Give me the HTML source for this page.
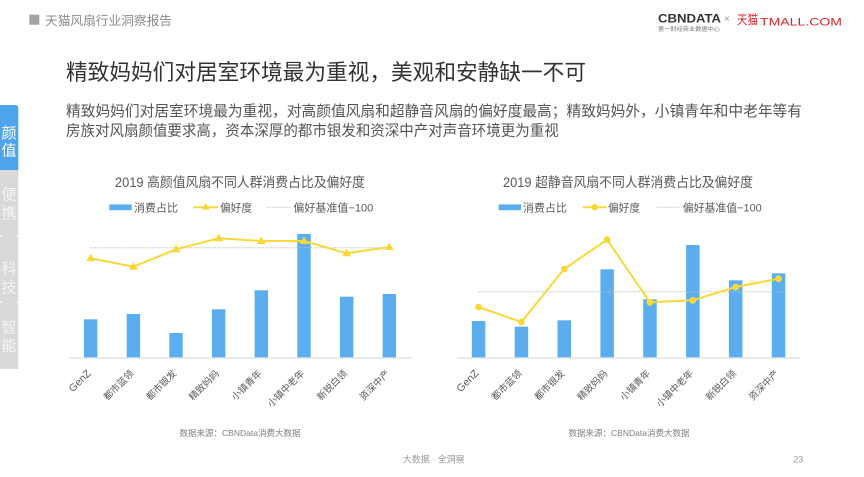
<!DOCTYPE html>
<html><head><meta charset="utf-8"><style>
html,body{margin:0;padding:0;background:#fff;}
svg{display:block;}
text{font-family:"Liberation Sans","Noto Sans CJK SC",sans-serif;}
</style></head><body>
<svg width="864" height="477" viewBox="0 0 864 477" xmlns="http://www.w3.org/2000/svg">
<rect width="864" height="477" fill="#fff"/>
<!-- header -->
<rect x="29.3" y="14.7" width="10" height="10" fill="#a3a3a3"/>
<text x="45" y="24.8" font-size="12.5" fill="#8c8c8c" textLength="127" lengthAdjust="spacingAndGlyphs">天猫风扇行业洞察报告</text>
<!-- logo -->
<text x="658" y="22.3" font-size="11.5" font-weight="bold" fill="#333" textLength="63" lengthAdjust="spacingAndGlyphs">CBNDATA</text>
<text x="658" y="31" font-size="5.5" fill="#777" textLength="62" lengthAdjust="spacingAndGlyphs">第一财经商业数据中心</text>
<text x="724" y="22" font-size="10" fill="#999">×</text>
<text x="737" y="24" font-size="12.5" fill="#d7262c" textLength="21" lengthAdjust="spacingAndGlyphs">天猫</text>
<text x="760" y="25.7" font-size="11" fill="#d7262c" textLength="82" lengthAdjust="spacingAndGlyphs">TMALL.COM</text>
<!-- title -->
<text x="66" y="80" font-size="22" fill="#333" textLength="520" lengthAdjust="spacingAndGlyphs">精致妈妈们对居室环境最为重视，美观和安静缺一不可</text>
<text x="66" y="115.8" font-size="15" fill="#555" textLength="736" lengthAdjust="spacingAndGlyphs">精致妈妈们对居室环境最为重视，对高颜值风扇和超静音风扇的偏好度最高；精致妈妈外，小镇青年和中老年等有</text>
<text x="66" y="135.5" font-size="15" fill="#555" textLength="492.7" lengthAdjust="spacingAndGlyphs">房族对风扇颜值要求高，资本深厚的都市银发和资深中产对声音环境更为重视</text>
<!-- sidebar -->
<path d="M0,105 H15 Q18.3,105 18.3,108 V170 H0 Z" fill="#4ea5ec"/>
<rect x="0" y="170" width="18.3" height="199" fill="#d9d9d9"/>
<path d="M0,366 H18.3 V366 Q18.3,369 15,369 H0 Z" fill="#d9d9d9"/>
<rect x="0" y="235.5" width="1.5" height="1.5" fill="#fff"/><rect x="16.8" y="235.5" width="1.5" height="1.5" fill="#fff"/>
<rect x="0" y="301.5" width="1.5" height="1.5" fill="#fff"/><rect x="16.8" y="301.5" width="1.5" height="1.5" fill="#fff"/>
<g font-size="15" fill="#fff" text-anchor="middle">
<text x="9" y="138">颜</text><text x="9" y="155.6">值</text>
</g>
<g font-size="15" fill="#f4f4f4" text-anchor="middle">
<text x="9" y="199.6">便</text><text x="9" y="218.6">携</text>
<text x="9" y="273.6">科</text><text x="9" y="292.3">技</text>
<text x="9" y="332.3">智</text><text x="9" y="350.6">能</text>
</g>

<!-- LEFT CHART -->
<text x="115" y="187" font-size="13.5" fill="#595959" textLength="250" lengthAdjust="spacingAndGlyphs">2019 高颜值风扇不同人群消费占比及偏好度</text>
<rect x="109.3" y="204.4" width="22.4" height="5.8" fill="#5aaeef"/>
<text x="134" y="211.5" font-size="11" fill="#595959" textLength="44" lengthAdjust="spacingAndGlyphs">消费占比</text>
<line x1="193.3" y1="207.3" x2="218.3" y2="207.3" stroke="#f9d93a" stroke-width="2"/>
<polygon points="205.8,203 201.8,209.6 209.8,209.6" fill="#f9d93a"/>
<text x="220" y="211.5" font-size="11" fill="#595959" textLength="32" lengthAdjust="spacingAndGlyphs">偏好度</text>
<line x1="267.3" y1="207.3" x2="291.7" y2="207.3" stroke="#bbb" stroke-width="1" stroke-dasharray="1.2,1.2"/>
<text x="293.3" y="211.5" font-size="11" fill="#595959" textLength="80" lengthAdjust="spacingAndGlyphs">偏好基准值−100</text>

<line x1="69" y1="358" x2="412" y2="358" stroke="#e4e4e4" stroke-width="1.5"/>
<g fill="#5aaeef">
<rect x="84" y="319.3" width="13.4" height="38"/>
<rect x="126.7" y="314" width="13.4" height="43.3"/>
<rect x="169.3" y="333" width="13.4" height="24.3"/>
<rect x="212" y="309.3" width="13.4" height="48"/>
<rect x="254.6" y="290.3" width="13.4" height="67"/>
<rect x="297.3" y="234" width="13.4" height="123.3"/>
<rect x="340" y="296.7" width="13.4" height="60.6"/>
<rect x="382.6" y="294" width="13.4" height="63.3"/>
</g>
<line x1="90" y1="247.7" x2="392" y2="247.7" stroke="#bdbdbd" stroke-width="1" stroke-dasharray="1.2,1.2"/>
<polyline points="90.7,258.3 133.4,266.7 176,249.3 218.7,238.3 261.3,241 304,241 346.7,253.3 389.3,247" fill="none" stroke="#f9d93a" stroke-width="2"/>
<g fill="#f9d93a">
<polygon points="90.7,253.8 86.2,261.3 95.2,261.3"/>
<polygon points="133.4,262.2 128.9,269.7 137.9,269.7"/>
<polygon points="176,244.8 171.5,252.3 180.5,252.3"/>
<polygon points="218.7,233.8 214.2,241.3 223.2,241.3"/>
<polygon points="261.3,236.5 256.8,244 265.8,244"/>
<polygon points="304,236.5 299.5,244 308.5,244"/>
<polygon points="346.7,248.8 342.2,256.3 351.2,256.3"/>
<polygon points="389.3,242.5 384.8,250 393.8,250"/>
</g>
<g font-size="9.5" fill="#595959" text-anchor="end">
<text transform="translate(91.5,374) rotate(-45)" font-size="10.5">GenZ</text>
<text transform="translate(134.4,374) rotate(-45)">都市蓝领</text>
<text transform="translate(177,374) rotate(-45)">都市银发</text>
<text transform="translate(219.7,374) rotate(-45)">精致妈妈</text>
<text transform="translate(262.3,374) rotate(-45)">小镇青年</text>
<text transform="translate(305,374) rotate(-45)">小镇中老年</text>
<text transform="translate(347.7,374) rotate(-45)">新锐白领</text>
<text transform="translate(390.3,374) rotate(-45)">资深中产</text>
</g>
<text x="240" y="436" font-size="8.5" fill="#808080" text-anchor="middle">数据来源：CBNData消费大数据</text>

<!-- RIGHT CHART -->
<text x="503" y="187" font-size="13.5" fill="#595959" textLength="250" lengthAdjust="spacingAndGlyphs">2019 超静音风扇不同人群消费占比及偏好度</text>
<rect x="498.7" y="204.4" width="22.4" height="5.8" fill="#5aaeef"/>
<text x="523" y="211.5" font-size="11" fill="#595959" textLength="44" lengthAdjust="spacingAndGlyphs">消费占比</text>
<line x1="582.7" y1="207.3" x2="606.7" y2="207.3" stroke="#f9d93a" stroke-width="2"/>
<circle cx="594.7" cy="207.3" r="3.3" fill="#f9d93a"/>
<text x="608" y="211.5" font-size="11" fill="#595959" textLength="32" lengthAdjust="spacingAndGlyphs">偏好度</text>
<line x1="656.7" y1="207.3" x2="680.7" y2="207.3" stroke="#bbb" stroke-width="1" stroke-dasharray="1.2,1.2"/>
<text x="682.7" y="211.5" font-size="11" fill="#595959" textLength="79" lengthAdjust="spacingAndGlyphs">偏好基准值−100</text>

<line x1="457" y1="358" x2="800" y2="358" stroke="#e4e4e4" stroke-width="1.5"/>
<g fill="#5aaeef">
<rect x="471.8" y="321" width="13.5" height="36.3"/>
<rect x="514.7" y="326.7" width="13.5" height="30.6"/>
<rect x="557.5" y="320.3" width="13.5" height="37"/>
<rect x="600.4" y="269.3" width="13.5" height="88"/>
<rect x="643.2" y="299.3" width="13.5" height="58"/>
<rect x="686.1" y="245" width="13.5" height="112.3"/>
<rect x="728.9" y="280.3" width="13.5" height="77"/>
<rect x="771.8" y="273.3" width="13.5" height="84"/>
</g>
<line x1="478" y1="291.7" x2="783" y2="291.7" stroke="#bdbdbd" stroke-width="1" stroke-dasharray="1.2,1.2"/>
<polyline points="478.5,307 521.4,322 564.2,269 607.1,239.7 649.9,302.3 692.8,300.3 735.6,287 778.5,278.7" fill="none" stroke="#f9d93a" stroke-width="2"/>
<g fill="#f9d93a">
<circle cx="478.5" cy="307" r="3.4"/>
<circle cx="521.4" cy="322" r="3.4"/>
<circle cx="564.2" cy="269" r="3.4"/>
<circle cx="607.1" cy="239.7" r="3.4"/>
<circle cx="649.9" cy="302.3" r="3.4"/>
<circle cx="692.8" cy="300.3" r="3.4"/>
<circle cx="735.6" cy="287" r="3.4"/>
<circle cx="778.5" cy="278.7" r="3.4"/>
</g>
<g font-size="9.5" fill="#595959" text-anchor="end">
<text transform="translate(479.3,374) rotate(-45)" font-size="10.5">GenZ</text>
<text transform="translate(522.4,374) rotate(-45)">都市蓝领</text>
<text transform="translate(565.2,374) rotate(-45)">都市银发</text>
<text transform="translate(608.1,374) rotate(-45)">精致妈妈</text>
<text transform="translate(650.9,374) rotate(-45)">小镇青年</text>
<text transform="translate(693.8,374) rotate(-45)">小镇中老年</text>
<text transform="translate(736.6,374) rotate(-45)">新锐白领</text>
<text transform="translate(779.5,374) rotate(-45)">资深中产</text>
</g>
<text x="629" y="436" font-size="8.5" fill="#808080" text-anchor="middle">数据来源：CBNData消费大数据</text>

<!-- footer -->
<text x="402.7" y="462.7" font-size="9" fill="#999" textLength="62" lengthAdjust="spacingAndGlyphs">大数据 · 全洞察</text>
<text x="793.3" y="462.7" font-size="9" fill="#999">23</text>
</svg>
</body></html>
